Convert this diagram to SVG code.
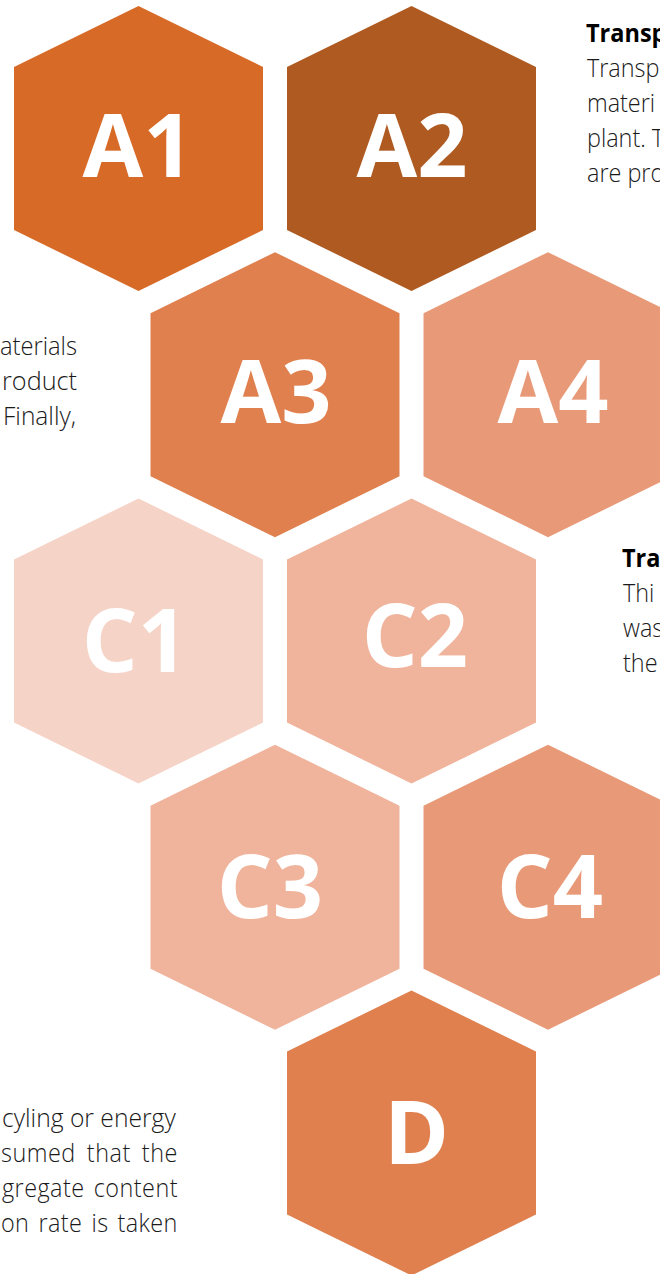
<svg xmlns="http://www.w3.org/2000/svg" xmlns:xlink="http://www.w3.org/1999/xlink" width="660" height="1274" viewBox="0 0 660 1274">
  <style>
    .lbl { font-family: "Open Sans", "Liberation Sans", sans-serif; font-weight: 700; font-size: 88px; fill: #ffffff; text-anchor: middle; }
    .txt { font-family: "Open Sans", "Liberation Sans", sans-serif; font-weight: 300; font-size: 26px; fill: #1a1a1a; }
    .hd { font-family: "Open Sans", "Liberation Sans", sans-serif; font-weight: 700; font-size: 25px; fill: #000000; }
    .c-a1 { fill: #D86A28; }
    .c-a2 { fill: #AE5A21; }
    .c-mid { fill: #E0804F; }
    .c-lt { fill: #E89A78; }
    .c-pale { fill: #F0B39B; }
    .c-palest { fill: #F6D3C7; }
  </style>
  <defs>
    <polygon id="hex" points="0,-142.5 124.5,-81.5 124.5,81.5 0,142.5 -124.5,81.5 -124.5,-81.5"/>
  </defs>
  <rect width="660" height="1274" fill="#ffffff"/>

  <g id="A1">
    <use xlink:href="#hex" href="#hex" x="138.5" y="148.5" class="c-a1"/>
    <text class="lbl" x="138" y="177">A1</text>
  </g>
  <g id="A2">
    <use xlink:href="#hex" href="#hex" x="411.5" y="148.5" class="c-a2"/>
    <text class="lbl" x="412" y="177">A2</text>
  </g>
  <g id="A3">
    <use xlink:href="#hex" href="#hex" x="275" y="394.7" class="c-mid"/>
    <text class="lbl" x="276" y="423">A3</text>
  </g>
  <g id="A4">
    <use xlink:href="#hex" href="#hex" x="548" y="394.7" class="c-lt"/>
    <text class="lbl" x="553" y="423">A4</text>
  </g>
  <g id="C1">
    <use xlink:href="#hex" href="#hex" x="138.5" y="641" class="c-palest"/>
    <text class="lbl" x="135" y="672">C1</text>
  </g>
  <g id="C2">
    <use xlink:href="#hex" href="#hex" x="411.5" y="641" class="c-pale"/>
    <text class="lbl" x="415" y="667">C2</text>
  </g>
  <g id="C3">
    <use xlink:href="#hex" href="#hex" x="275" y="887.2" class="c-pale"/>
    <text class="lbl" x="270" y="918">C3</text>
  </g>
  <g id="C4">
    <use xlink:href="#hex" href="#hex" x="548" y="887.2" class="c-lt"/>
    <text class="lbl" x="550" y="918">C4</text>
  </g>
  <g id="D">
    <use xlink:href="#hex" href="#hex" x="411.5" y="1133" class="c-mid"/>
    <text class="lbl" x="416.5" y="1164">D</text>
  </g>

  <g id="text-top-right">
    <text class="hd" transform="matrix(0.94 0 0 1 586 42)">Transp</text>
    <text class="txt" transform="matrix(0.9 0 0 1 587 77)">Transp</text>
    <text class="txt" transform="matrix(0.9 0 0 1 587 112)">materi</text>
    <text class="txt" transform="matrix(0.9 0 0 1 587 147)">plant. T</text>
    <text class="txt" transform="matrix(0.9 0 0 1 587 182)">are pro</text>
  </g>

  <g id="text-left-middle">
    <text class="txt" x="0" y="355" textLength="77" lengthAdjust="spacingAndGlyphs">aterials</text>
    <text class="txt" x="2" y="390" textLength="75" lengthAdjust="spacingAndGlyphs">roduct</text>
    <text class="txt" x="3" y="425" textLength="73" lengthAdjust="spacingAndGlyphs">Finally,</text>
  </g>

  <g id="text-right-middle">
    <text class="hd" transform="matrix(0.94 0 0 1 622 567)">Tra</text>
    <text class="txt" transform="matrix(0.9 0 0 1 623 602)">Thi</text>
    <text class="txt" transform="matrix(0.9 0 0 1 623 637)">was</text>
    <text class="txt" transform="matrix(0.9 0 0 1 623 672)">the</text>
  </g>

  <g id="text-bottom-left">
    <text class="txt" transform="matrix(0.9 0 0 1 2 1127)" textLength="193" lengthAdjust="spacingAndGlyphs">cyling or energy</text>
    <text class="txt" transform="matrix(0.9 0 0 1 1 1162)" word-spacing="5" textLength="196" lengthAdjust="spacing">sumed that the</text>
    <text class="txt" transform="matrix(0.9 0 0 1 2 1197)" word-spacing="3" textLength="195" lengthAdjust="spacing">gregate content</text>
    <text class="txt" transform="matrix(0.9 0 0 1 1 1232)" word-spacing="3" textLength="196" lengthAdjust="spacing">on rate is taken</text>
  </g>
</svg>
